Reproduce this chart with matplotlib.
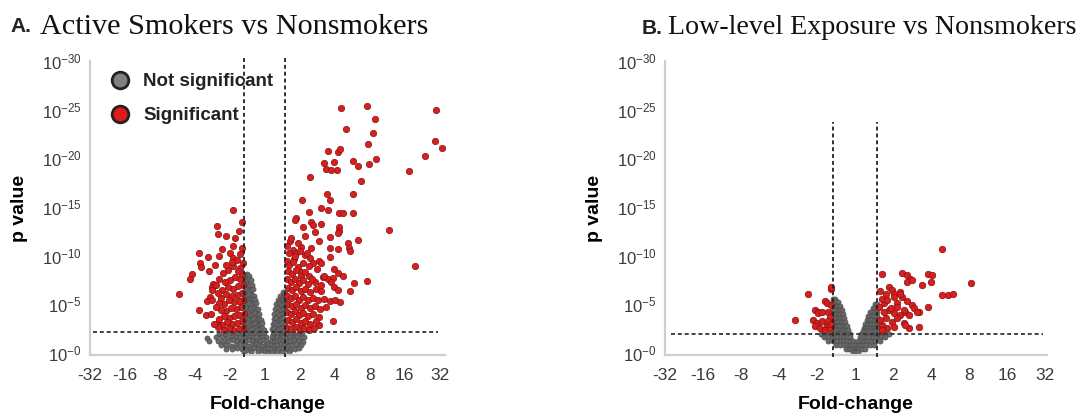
import matplotlib
matplotlib.use("Agg")
import matplotlib.pyplot as plt
from matplotlib.lines import Line2D

plt.rcParams['font.family'] = ['Liberation Sans', 'DejaVu Sans']
plt.rcParams['mathtext.default'] = 'regular'

# ---------------- data (x = log2 fold-change, y = -log10 p) ----------------
x_tick_pos = [-5, -4, -3, -2, -1, 0, 1, 2, 3, 4, 5]
x_tick_labels = ['-32', '-16', '-8', '-4', '-2', '1', '2', '4', '8', '16', '32']
y_tick_pos = [0, 5, 10, 15, 20, 25, 30]
y_tick_labels = ['$10^{-0}$', '$10^{-5}$', '$10^{-10}$', '$10^{-15}$',
                 '$10^{-20}$', '$10^{-25}$', '$10^{-30}$']

fc_cut = 0.585
a_p_cut = 2.2
b_p_cut = 2.0

# Panel A - significant, sparse upper points
a_sig_upper = [
    (2.18, 25.2), (2.92, 25.35), (4.9, 25.0), (3.15, 24.0), (2.32, 23.0), (3.1, 22.6),
    (2.95, 21.5), (4.86, 21.8), (5.07, 21.1), (1.80, 20.8), (2.08, 20.7), (2.15, 21.0),
    (4.59, 20.2), (3.19, 19.95), (2.53, 19.7), (2.67, 19.2), (2.98, 19.4), (1.68, 19.5),
    (1.99, 19.6), (1.75, 18.9), (1.89, 18.8), (2.05, 18.8), (4.12, 18.7), (1.28, 18.1),
    (2.75, 17.7), (1.77, 16.3), (2.53, 16.3), (1.06, 15.7), (1.85, 15.7),
]
# Panel A - significant, right side middle
a_sig_right_mid = [
    (1.61, 14.9), (1.80, 14.7), (1.26, 14.5), (2.13, 14.4), (2.22, 14.4), (2.51, 14.4),
    (0.90, 13.9), (0.85, 13.7), (1.33, 13.5), (1.37, 13.2), (1.61, 13.3), (1.09, 12.9),
    (2.13, 12.9), (2.11, 12.5), (3.55, 12.6), (1.42, 12.4), (1.14, 12.0), (2.08, 12.3),
    (1.85, 11.9), (1.56, 11.5), (0.71, 11.5), (2.67, 11.6), (2.37, 11.3), (2.41, 10.8),
    (2.43, 10.5), (1.04, 10.9), (1.33, 10.8), (1.85, 10.8), (2.08, 10.7), (0.80, 10.6),
    (0.90, 10.3), (0.99, 10.5), (1.14, 10.1), (1.28, 9.8), (1.85, 9.9), (1.56, 9.5),
    (1.61, 9.3), (0.82, 9.7), (1.37, 9.3), (4.29, 8.9), (1.99, 8.6), (2.08, 8.2),
    (0.95, 8.8), (1.04, 8.3), (1.26, 7.9), (1.66, 7.8), (1.80, 7.6), (1.94, 7.7),
    (2.22, 7.9), (1.42, 7.3), (2.93, 7.4), (2.56, 7.2), (1.99, 6.8), (2.44, 6.4),
    (1.94, 3.3), (1.56, 2.9),
]
# Panel A - significant, right dense cluster
a_sig_right_dense = [
    (0.62, 9.5), (0.70, 9.0), (0.80, 9.4), (0.66, 8.4), (0.78, 8.1), (0.90, 8.5), (1.02, 7.9),
    (1.15, 8.3), (0.63, 7.6), (0.74, 7.3), (0.86, 7.6), (0.98, 7.2), (1.10, 7.5), (1.22, 7.1),
    (1.35, 7.6), (0.66, 6.7), (0.78, 6.5), (0.90, 6.8), (1.03, 6.4), (1.16, 6.6), (1.30, 6.3),
    (1.45, 6.6), (1.60, 6.4), (0.62, 5.9), (0.74, 5.7), (0.86, 5.9), (0.98, 5.5), (1.10, 5.8),
    (1.24, 5.5), (1.38, 5.7), (1.52, 5.4), (1.70, 5.6), (1.85, 5.3), (2.00, 5.5), (2.15, 5.2),
    (0.65, 5.0), (0.77, 4.8), (0.90, 5.0), (1.02, 4.6), (1.15, 4.9), (1.28, 4.6), (1.42, 4.8),
    (1.58, 4.5), (1.75, 4.7), (0.62, 4.2), (0.74, 4.0), (0.86, 4.3), (0.98, 3.9), (1.10, 4.1),
    (1.24, 3.8), (1.38, 4.0), (1.55, 3.7), (0.66, 3.4), (0.78, 3.2), (0.90, 3.5), (1.02, 3.1),
    (1.15, 3.3), (1.30, 3.0), (1.46, 3.3), (0.63, 2.6), (0.75, 2.5), (0.88, 2.7), (1.00, 2.4),
    (1.13, 2.6), (1.26, 2.4), (1.40, 2.6), (0.70, 10.3), (0.64, 11.0), (0.85, 10.0), (1.10, 9.2),
    (1.25, 8.9), (1.50, 8.6), (1.70, 7.9), (1.90, 7.3), (2.10, 6.5), (1.60, 7.0), (1.20, 10.3),
    (0.95, 11.3), (0.75, 11.8),
]
# Panel A - significant, left side
a_sig_left = [
    (-0.90, 14.7), (-0.66, 13.5), (-1.37, 13.1), (-1.33, 12.2), (-1.11, 12.0), (-0.85, 11.8),
    (-1.23, 10.7), (-1.89, 10.3), (-1.64, 9.9), (-1.30, 10.0), (-0.99, 10.3), (-0.92, 9.8),
    (-1.85, 9.3), (-1.83, 8.8), (-2.08, 8.1), (-2.15, 7.6), (-2.46, 6.1), (-1.47, 7.1),
    (-1.51, 6.8), (-1.56, 5.8), (-1.66, 5.3), (-1.87, 4.4), (-1.68, 3.9), (-1.33, 3.1),
    (-0.62, 9.2), (-0.70, 8.7), (-0.65, 8.1), (-0.78, 8.4), (-0.90, 8.9), (-1.05, 8.5),
    (-1.20, 8.2), (-0.72, 7.6), (-0.85, 7.8), (-1.00, 7.5), (-1.15, 7.3), (-1.30, 7.6),
    (-1.40, 7.0), (-0.63, 7.0), (-0.76, 6.9), (-0.90, 6.6), (-1.05, 6.8), (-1.22, 6.5),
    (-1.35, 6.2), (-0.66, 6.2), (-0.80, 6.0), (-0.95, 5.9), (-1.10, 6.1), (-1.25, 5.7),
    (-0.62, 5.5), (-0.74, 5.3), (-0.88, 5.2), (-1.02, 5.4), (-1.18, 5.0), (-1.32, 5.1),
    (-0.68, 4.7), (-0.82, 4.5), (-0.96, 4.6), (-1.10, 4.3), (-1.25, 4.4), (-1.40, 4.7),
    (-0.61, 4.0), (-0.74, 3.9), (-0.88, 3.8), (-1.02, 3.6), (-1.16, 3.8), (-1.30, 3.5),
    (-0.66, 3.3), (-0.80, 3.1), (-0.94, 3.0), (-1.08, 3.2), (-1.22, 2.9), (-0.62, 2.6),
    (-0.75, 2.5), (-0.90, 2.4), (-1.04, 2.6), (-1.18, 2.4), (-1.35, 2.7), (-0.70, 10.2),
    (-0.80, 9.6), (-0.95, 9.4), (-1.10, 9.0), (-0.66, 10.8), (-0.90, 11.0), (-0.74, 12.5),
    (-1.50, 5.5), (-1.45, 3.0), (-1.55, 4.0), (-1.50, 6.5), (-1.60, 8.4), (-1.42, 9.0),
]
# Panel A - not significant
a_ns = [
    (-0.56, 8.0), (-0.50, 8.1), (-0.45, 7.9),
    (-0.57, 7.5), (-0.52, 7.4), (-0.46, 7.6), (-0.40, 7.5),
    (-0.56, 7.0), (-0.50, 7.1), (-0.44, 6.9), (-0.37, 7.0),
    (-0.57, 6.5), (-0.52, 6.6), (-0.46, 6.4), (-0.40, 6.5), (-0.34, 6.6),
    (-0.56, 6.0), (-0.50, 5.9), (-0.44, 6.1), (-0.38, 6.0), (-0.31, 5.9),
    (-0.57, 5.5), (-0.51, 5.6), (-0.45, 5.4), (-0.39, 5.5), (-0.33, 5.6), (-0.27, 5.4),
    (-0.56, 5.0), (-0.50, 4.9), (-0.44, 5.1), (-0.37, 5.0), (-0.30, 4.9), (-0.24, 5.1),
    (-0.57, 4.5), (-0.51, 4.6), (-0.45, 4.4), (-0.39, 4.5), (-0.32, 4.6), (-0.25, 4.4), (-0.20, 4.5),
    (-0.56, 4.0), (-0.49, 4.1), (-0.42, 3.9), (-0.35, 4.0), (-0.28, 4.1), (-0.21, 3.9), (-0.16, 4.0),
    (-0.57, 3.5), (-0.50, 3.6), (-0.44, 3.4), (-0.37, 3.5), (-0.30, 3.6), (-0.23, 3.4), (-0.16, 3.5),
    (-0.12, 3.4),
    (-0.56, 3.0), (-0.49, 3.1), (-0.42, 2.9), (-0.35, 3.0), (-0.28, 3.1), (-0.21, 2.9), (-0.14, 3.0),
    (-0.08, 3.1),
    (-0.57, 2.5), (-0.50, 2.6), (-0.43, 2.4), (-0.36, 2.5), (-0.29, 2.6), (-0.22, 2.4), (-0.15, 2.5),
    (-0.08, 2.6), (-0.03, 2.4),
    (0.52, 6.3), (0.58, 6.2),
    (0.44, 5.9), (0.51, 5.8), (0.58, 5.9),
    (0.38, 5.5), (0.45, 5.4), (0.52, 5.5), (0.58, 5.4),
    (0.33, 5.0), (0.40, 5.1), (0.47, 4.9), (0.54, 5.0), (0.60, 5.1),
    (0.30, 4.5), (0.37, 4.6), (0.44, 4.4), (0.51, 4.5), (0.58, 4.6),
    (0.27, 4.0), (0.34, 4.1), (0.41, 3.9), (0.48, 4.0), (0.55, 4.1),
    (0.25, 3.5), (0.32, 3.6), (0.39, 3.4), (0.46, 3.5), (0.53, 3.6), (0.60, 3.4),
    (0.22, 3.0), (0.29, 3.1), (0.36, 2.9), (0.43, 3.0), (0.50, 3.1), (0.57, 2.9),
    (0.20, 2.5), (0.27, 2.6), (0.34, 2.4), (0.41, 2.5), (0.48, 2.6), (0.55, 2.4),
    (-1.30, 2.0), (-1.15, 2.0), (-1.00, 2.1), (-0.88, 2.0), (-0.75, 1.9), (-0.62, 2.0), (-0.50, 2.1),
    (-0.40, 2.0), (-0.30, 1.9), (-0.20, 2.0), (-0.10, 2.1), (-0.03, 2.0), (0.22, 2.0), (0.30, 2.1),
    (0.38, 2.0), (0.46, 1.9), (0.55, 2.0), (0.65, 2.1), (0.75, 2.0), (0.85, 1.9), (0.95, 2.0),
    (1.05, 2.1),
    (-1.40, 1.6), (-1.22, 1.6), (-1.08, 1.5), (-0.95, 1.6), (-0.82, 1.7), (-0.70, 1.6), (-0.58, 1.5),
    (-0.46, 1.6), (-0.35, 1.7), (-0.25, 1.6), (-0.15, 1.5), (-0.06, 1.6), (0.02, 1.6), (0.20, 1.6),
    (0.28, 1.5), (0.36, 1.6), (0.45, 1.7), (0.53, 1.6), (0.62, 1.5), (0.72, 1.6), (0.82, 1.7),
    (0.92, 1.6), (1.02, 1.5), (1.12, 1.6),
    (-1.35, 1.2), (-1.20, 1.1), (-1.05, 1.2), (-0.92, 1.3), (-0.80, 1.2), (-0.68, 1.1), (-0.56, 1.2),
    (-0.45, 1.3), (-0.34, 1.2), (-0.24, 1.1), (-0.14, 1.2), (-0.05, 1.3), (0.03, 1.2), (0.17, 1.2),
    (0.26, 1.1), (0.35, 1.2), (0.44, 1.3), (0.53, 1.2), (0.63, 1.1), (0.73, 1.2), (0.84, 1.3),
    (0.95, 1.2), (1.08, 1.1),
    (-1.25, 0.8), (-1.10, 0.8), (-0.96, 0.7), (-0.83, 0.8), (-0.70, 0.9), (-0.58, 0.8), (-0.47, 0.7),
    (-0.36, 0.8), (-0.26, 0.9), (-0.16, 0.8), (-0.07, 0.7), (0.02, 0.8), (0.10, 0.9), (0.18, 0.8),
    (0.27, 0.7), (0.36, 0.8), (0.46, 0.9), (0.56, 0.8), (0.67, 0.7), (0.78, 0.8), (0.90, 0.9),
    (1.02, 0.8),
    (-1.10, 0.4), (-0.95, 0.4), (-0.80, 0.5), (-0.66, 0.4), (-0.53, 0.3), (-0.41, 0.4), (-0.30, 0.5),
    (-0.19, 0.4), (-0.09, 0.3), (0.00, 0.4), (0.09, 0.5), (0.18, 0.4), (0.28, 0.3), (0.38, 0.4),
    (0.49, 0.5), (0.60, 0.4), (0.72, 0.3), (0.85, 0.4), (0.98, 0.5),
    (-0.60, 0.1), (-0.40, 0.1), (-0.20, 0.1), (0.00, 0.1), (0.10, 0.05), (0.20, 0.1), (0.35, 0.1),
    (0.50, 0.1), (0.70, 0.1),
    (-1.65, 1.5), (-1.60, 1.2),
]

# Panel B - significant
b_sig = [
    (2.30, 10.7), (0.72, 8.1), (1.24, 8.2), (1.37, 8.0), (1.45, 7.6), (1.37, 7.3), (1.50, 7.5),
    (1.93, 8.1), (2.02, 8.0), (1.99, 7.3), (1.77, 7.0), (3.04, 7.2), (2.28, 6.0), (2.45, 6.0),
    (2.58, 6.05), (0.89, 6.8), (0.98, 6.45), (0.81, 6.1), (1.02, 6.1), (1.19, 6.3), (1.24, 5.8),
    (1.37, 5.3), (1.50, 4.9), (1.54, 4.6), (1.67, 4.25), (1.93, 4.7), (1.32, 4.25), (1.19, 3.9),
    (1.02, 4.1), (0.89, 4.4), (0.76, 5.1), (0.72, 5.6), (0.81, 3.6), (0.98, 3.2), (1.11, 3.6),
    (1.28, 3.1), (1.41, 2.6), (0.85, 2.6), (0.72, 2.9), (1.02, 2.7), (0.94, 4.6), (1.11, 5.1),
    (0.76, 4.25), (1.63, 4.25), (1.32, 2.9), (1.02, 5.8), (1.19, 6.1), (1.11, 4.75), (1.28, 4.4),
    (1.41, 3.9), (1.67, 2.7), (0.66, 6.4), (0.64, 4.7), (0.66, 3.4), (0.70, 2.4), (0.84, 5.4),
    (-0.62, 6.6), (-1.23, 6.1), (-0.80, 5.3), (-1.06, 4.4), (-0.97, 4.25), (-0.71, 4.25),
    (-0.67, 3.75), (-1.58, 3.35), (-1.10, 3.4), (-1.01, 3.1), (-0.88, 3.25), (-0.75, 2.9),
    (-1.06, 2.75), (-0.93, 2.55), (-0.80, 2.4), (-0.67, 2.55), (-0.71, 3.25), (-0.62, 6.8),
    (-0.97, 4.1), (-0.88, 4.25), (-0.75, 5.1), (-0.64, 4.9), (-0.63, 3.0),
]
# Panel B - not significant
b_ns = [
    (-0.58, 5.6), (-0.52, 5.6),
    (-0.58, 5.2), (-0.52, 5.2), (-0.46, 5.2),
    (-0.57, 4.8), (-0.51, 4.8), (-0.45, 4.8), (-0.40, 4.8),
    (-0.58, 4.4), (-0.52, 4.4), (-0.46, 4.4), (-0.40, 4.4), (-0.35, 4.4),
    (-0.57, 4.0), (-0.51, 4.0), (-0.45, 4.0), (-0.39, 4.0), (-0.33, 4.0),
    (-0.58, 3.6), (-0.52, 3.6), (-0.46, 3.6), (-0.40, 3.6), (-0.34, 3.6), (-0.29, 3.6),
    (-0.57, 3.2), (-0.50, 3.2), (-0.44, 3.2), (-0.38, 3.2), (-0.32, 3.2), (-0.26, 3.2),
    (-0.58, 2.8), (-0.51, 2.8), (-0.45, 2.8), (-0.39, 2.8), (-0.33, 2.8), (-0.27, 2.8), (-0.22, 2.8),
    (-0.56, 2.4), (-0.49, 2.4), (-0.43, 2.4), (-0.37, 2.4), (-0.31, 2.4), (-0.25, 2.4), (-0.19, 2.4),
    (-0.90, 2.0), (-0.78, 2.0), (-0.66, 2.0), (-0.55, 2.0), (-0.45, 2.0), (-0.36, 2.0), (-0.28, 2.0),
    (-0.20, 2.0), (-0.13, 2.0), (0.15, 2.0), (0.22, 2.0), (0.30, 2.0), (0.38, 2.0), (0.47, 2.0),
    (0.56, 2.0), (0.66, 2.0), (0.78, 2.0), (0.90, 2.0),
    (-0.82, 1.6), (-0.70, 1.6), (-0.58, 1.6), (-0.47, 1.6), (-0.37, 1.6), (-0.28, 1.6), (-0.20, 1.6),
    (-0.12, 1.6), (0.13, 1.6), (0.20, 1.6), (0.28, 1.6), (0.37, 1.6), (0.46, 1.6), (0.56, 1.6),
    (0.67, 1.6), (0.80, 1.6),
    (-0.70, 1.2), (-0.58, 1.2), (-0.47, 1.2), (-0.37, 1.2), (-0.28, 1.2), (-0.20, 1.2), (-0.13, 1.2),
    (-0.06, 1.2), (0.08, 1.2), (0.15, 1.2), (0.23, 1.2), (0.32, 1.2), (0.42, 1.2), (0.53, 1.2),
    (0.65, 1.2),
    (-0.50, 0.8), (-0.40, 0.8), (-0.30, 0.8), (-0.22, 0.8), (-0.14, 0.8), (-0.07, 0.8), (0.00, 0.8),
    (0.07, 0.8), (0.14, 0.8), (0.22, 0.8), (0.30, 0.8), (0.40, 0.8), (0.50, 0.8),
    (-0.25, 0.4), (-0.17, 0.4), (-0.10, 0.4), (-0.03, 0.4), (0.04, 0.4), (0.11, 0.4), (0.18, 0.4),
    (0.26, 0.4),
    (-0.05, 0.1), (0.02, 0.1), (0.09, 0.1),
    (0.52, 5.0), (0.58, 5.0),
    (0.46, 4.6), (0.52, 4.6), (0.58, 4.6),
    (0.40, 4.2), (0.46, 4.2), (0.52, 4.2), (0.58, 4.2),
    (0.35, 3.8), (0.41, 3.8), (0.47, 3.8), (0.53, 3.8), (0.59, 3.8),
    (0.31, 3.4), (0.37, 3.4), (0.43, 3.4), (0.49, 3.4), (0.55, 3.4), (0.61, 3.4),
    (0.27, 3.0), (0.33, 3.0), (0.39, 3.0), (0.45, 3.0), (0.51, 3.0), (0.57, 3.0), (0.63, 3.0),
    (0.23, 2.6), (0.29, 2.6), (0.35, 2.6), (0.41, 2.6), (0.47, 2.6), (0.53, 2.6), (0.59, 2.6),
    (0.65, 2.6),
    (0.20, 2.3), (0.26, 2.3), (0.32, 2.3), (0.38, 2.3), (0.44, 2.3), (0.50, 2.3), (0.56, 2.3),
    (0.62, 2.3), (0.70, 2.3),
]

a_sig = a_sig_upper + a_sig_right_mid + a_sig_right_dense + a_sig_left

RED = '#d62020'
RED_EDGE = '#8a1010'
GRAY = '#6a6a6a'
GRAY_EDGE = '#444444'
SPINE = '#cfcfcf'
TICKC = '#3a3a3a'


def xy(pairs):
    return [p[0] for p in pairs], [p[1] for p in pairs]


fig = plt.figure(figsize=(10.82, 4.17), dpi=100)
axA = fig.add_axes([90 / 1082, 1 - 355 / 417, 355 / 1082, 294 / 417])
axB = fig.add_axes([665 / 1082, 1 - 355 / 417, 382 / 1082, 294 / 417])


def style(ax, xlim):
    ax.set_xlim(*xlim)
    ax.set_ylim(-0.2, 30)
    for s in ['top', 'right']:
        ax.spines[s].set_visible(False)
    for s in ['left', 'bottom']:
        ax.spines[s].set_color(SPINE)
        ax.spines[s].set_linewidth(1.6)
    ax.set_xticks(x_tick_pos)
    ax.set_xticklabels(x_tick_labels)
    ax.set_yticks(y_tick_pos)
    ax.set_yticklabels(y_tick_labels)
    ax.tick_params(axis='y', length=0, labelsize=12, colors=TICKC, pad=6)
    ax.tick_params(axis='x', length=0, labelsize=12.5, colors=TICKC, pad=9)
    ax.set_xlabel('Fold-change', fontsize=14, fontweight='bold', labelpad=10)
    ax.set_ylabel('p value', fontsize=14, fontweight='bold', labelpad=10)


dash = (0, (2.2, 1.6))

# Panel A
style(axA, (-5.0, 5.15))
gx, gy = xy(a_ns)
axA.scatter(gx, gy, s=14, c=GRAY, edgecolors=GRAY_EDGE, linewidths=0.4, zorder=2)
rx, ry = xy(a_sig)
axA.scatter(rx, ry, s=21, c=RED, edgecolors=RED_EDGE, linewidths=0.5, zorder=3)
axA.vlines([-fc_cut, fc_cut], -0.4, 30.3, colors='#222222', linestyles=dash, lw=1.3,
           zorder=4, clip_on=False)
axA.hlines(a_p_cut, -4.9, 4.95, colors='#333333', linestyles=dash, lw=1.3, zorder=4)

handles = [
    Line2D([], [], marker='o', ls='none', markersize=12, markerfacecolor='#808080',
           markeredgecolor='#222222', markeredgewidth=2, label='Not significant'),
    Line2D([], [], marker='o', ls='none', markersize=12, markerfacecolor='#e01b1b',
           markeredgecolor='#222222', markeredgewidth=2, label='Significant'),
]
leg = axA.legend(handles=handles, loc='upper left', bbox_to_anchor=(0.058, 0.958),
                 frameon=False, prop={'weight': 'bold', 'size': 13.5},
                 handlelength=1.0, handletextpad=0.73, labelspacing=0.9,
                 borderpad=0, borderaxespad=0)
for t in leg.get_texts():
    t.set_color('#222222')

# Panel B
style(axB, (-4.95, 5.05))
gx, gy = xy(b_ns)
axB.scatter(gx, gy, s=14, c=GRAY, edgecolors=GRAY_EDGE, linewidths=0.4, zorder=2)
rx, ry = xy(b_sig)
axB.scatter(rx, ry, s=22, c=RED, edgecolors=RED_EDGE, linewidths=0.5, zorder=3)
axB.vlines([-fc_cut, fc_cut], -0.4, 23.7, colors='#222222', linestyles=dash, lw=1.3,
           zorder=4, clip_on=False)
axB.hlines(b_p_cut, -4.85, 4.95, colors='#333333', linestyles=dash, lw=1.3, zorder=4)

# Titles
fig.text(10 / 1082, 1 - 27 / 417, 'A.', fontsize=15, fontweight='bold', va='center',
         ha='left', color='#222222')
fig.text(40 / 1082, 1 - 27 / 417, 'Active Smokers vs Nonsmokers', fontsize=21.8,
         family='Liberation Serif', va='center', ha='left', color='#111111')
fig.text(642 / 1082, 1 - 28 / 417, 'B.', fontsize=15, fontweight='bold', va='center',
         ha='left', color='#222222')
fig.text(668 / 1082, 1 - 28 / 417, 'Low-level Exposure vs Nonsmokers', fontsize=20.2,
         family='Liberation Serif', va='center', ha='left', color='#111111')

fig.savefig('out.png', dpi=100, facecolor='white')
